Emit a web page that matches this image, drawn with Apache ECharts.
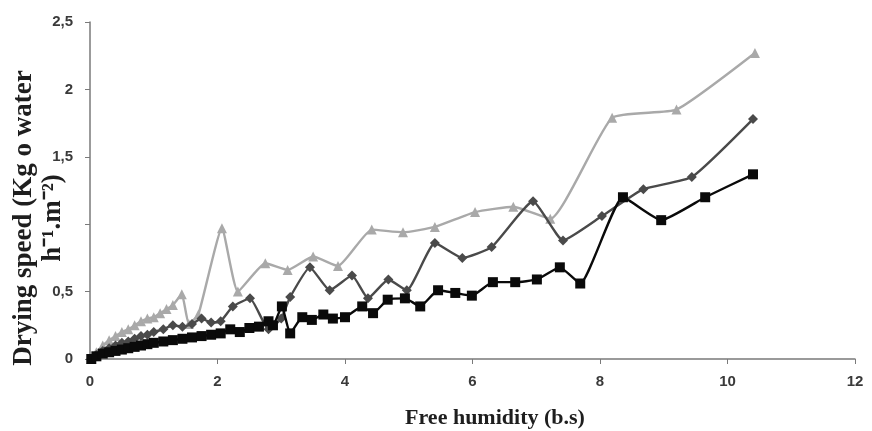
<!DOCTYPE html>
<html>
<head>
<meta charset="utf-8">
<script src="https://cdn.jsdelivr.net/npm/echarts@6/dist/echarts.min.js"></script>
<style>
html,body{margin:0;padding:0;background:#fff;}
#chart{width:872px;height:431px;}
</style>
</head>
<body>
<div id="chart"></div>
<script>
// Series 1: light grey triangles
const triX = [0.02,0.1,0.2,0.3,0.4,0.5,0.6,0.7,0.8,0.9,1.0,1.1,1.2,1.3,1.44,1.55,1.7,2.07,2.32,2.75,3.1,3.5,3.89,4.42,4.91,5.41,6.04,6.64,7.22,8.19,9.2,10.43];
const triY = [0.0,0.05,0.1,0.14,0.17,0.2,0.22,0.25,0.28,0.3,0.31,0.34,0.37,0.4,0.48,0.26,0.33,0.97,0.5,0.71,0.66,0.76,0.69,0.96,0.94,0.98,1.09,1.13,1.04,1.79,1.85,2.27];
// Series 2: dark grey diamonds
const diaX = [0.02,0.1,0.2,0.3,0.4,0.5,0.6,0.7,0.8,0.9,1.0,1.15,1.3,1.45,1.6,1.75,1.9,2.05,2.24,2.51,2.8,3.0,3.14,3.45,3.76,4.11,4.36,4.68,4.97,5.41,5.84,6.3,6.95,7.42,8.03,8.68,9.44,10.4];
const diaY = [0.0,0.03,0.06,0.08,0.1,0.12,0.13,0.15,0.17,0.18,0.2,0.22,0.25,0.24,0.26,0.3,0.27,0.28,0.39,0.45,0.22,0.3,0.46,0.68,0.51,0.62,0.45,0.59,0.51,0.86,0.75,0.83,1.17,0.88,1.06,1.26,1.35,1.78];
// Series 3: black squares
const sqX = [0.02,0.1,0.2,0.3,0.4,0.5,0.6,0.7,0.8,0.9,1.0,1.15,1.3,1.45,1.6,1.75,1.9,2.05,2.2,2.35,2.5,2.65,2.8,2.87,3.01,3.14,3.33,3.48,3.66,3.81,4.0,4.27,4.44,4.67,4.94,5.18,5.46,5.73,5.99,6.32,6.67,7.01,7.37,7.69,8.36,8.96,9.65,10.4];
const sqY = [0.0,0.02,0.04,0.05,0.06,0.07,0.08,0.09,0.1,0.11,0.12,0.13,0.14,0.15,0.16,0.17,0.18,0.19,0.22,0.2,0.23,0.24,0.28,0.25,0.39,0.19,0.31,0.29,0.33,0.3,0.31,0.39,0.34,0.44,0.45,0.39,0.51,0.49,0.47,0.57,0.57,0.59,0.68,0.56,1.2,1.03,1.2,1.37];

const xTitle = 'Free humidity (b.s)';
const yTitle1 = 'Drying speed (Kg o water';
const yTitle2 = 'h\u207B\u00B9.m\u207B\u00B2)';

function pairs(xs, ys){ return xs.map((x,i)=>[x, ys[i]]); }

const chart = echarts.init(document.getElementById('chart'), null, {renderer:'canvas'});
const tickFont = {fontFamily:'Liberation Sans', fontWeight:'bold', fontSize:15, color:'#3a3a3a'};
const titleFill = '#1e1e1e';
chart.setOption({
  animation:false,
  backgroundColor:'#fff',
  grid:{left:90, right:17, top:22, bottom:72, containLabel:false, outerBoundsMode:'none'},
  graphic:[
    {type:'text', x:495, y:418, z:10,
     style:{text:xTitle, font:'bold 22px "Liberation Serif"', fill:titleFill, textAlign:'center', textVerticalAlign:'middle'}},
    {type:'text', x:24, y:218, rotation:Math.PI/2, z:10,
     style:{text:yTitle1, font:'bold 27px "Liberation Serif"', fill:titleFill, textAlign:'center', textVerticalAlign:'middle'}},
    {type:'text', x:53, y:218, rotation:Math.PI/2, z:10,
     style:{text:yTitle2, font:'bold 27px "Liberation Serif"', fill:titleFill, textAlign:'center', textVerticalAlign:'middle'}}
  ],
  xAxis:{
    type:'value', min:0, max:12, interval:2,
    axisLine:{lineStyle:{color:'#7a7a7a', width:1.5}},
    axisTick:{show:true, length:5, lineStyle:{color:'#7a7a7a'}},
    axisLabel:Object.assign({margin:15}, tickFont),
    splitLine:{show:false}
  },
  yAxis:{
    type:'value', min:0, max:2.5, interval:0.5,
    axisLine:{show:true, lineStyle:{color:'#7a7a7a', width:1.5}},
    axisTick:{show:true, length:5, lineStyle:{color:'#7a7a7a'}},
    axisLabel:Object.assign({margin:17, formatter:function(v){ if(v===1) return ''; return String(v).replace('.',','); }}, tickFont),
    splitLine:{show:false}
  },
  series:[
    {type:'line', name:'tri', data:pairs(triX,triY), smooth:0.15, symbol:'triangle', symbolSize:10,
     lineStyle:{color:'#a9a9a9', width:2.4}, itemStyle:{color:'#a9a9a9'}, z:2},
    {type:'line', name:'dia', data:pairs(diaX,diaY), smooth:0.15, symbol:'diamond', symbolSize:10,
     lineStyle:{color:'#4a4a4a', width:2.4}, itemStyle:{color:'#4a4a4a'}, z:3},
    {type:'line', name:'sq', data:pairs(sqX,sqY), smooth:0.15, symbol:'rect', symbolSize:10,
     lineStyle:{color:'#0a0a0a', width:2.4}, itemStyle:{color:'#0a0a0a'}, z:4}
  ]
});
</script>
</body>
</html>
